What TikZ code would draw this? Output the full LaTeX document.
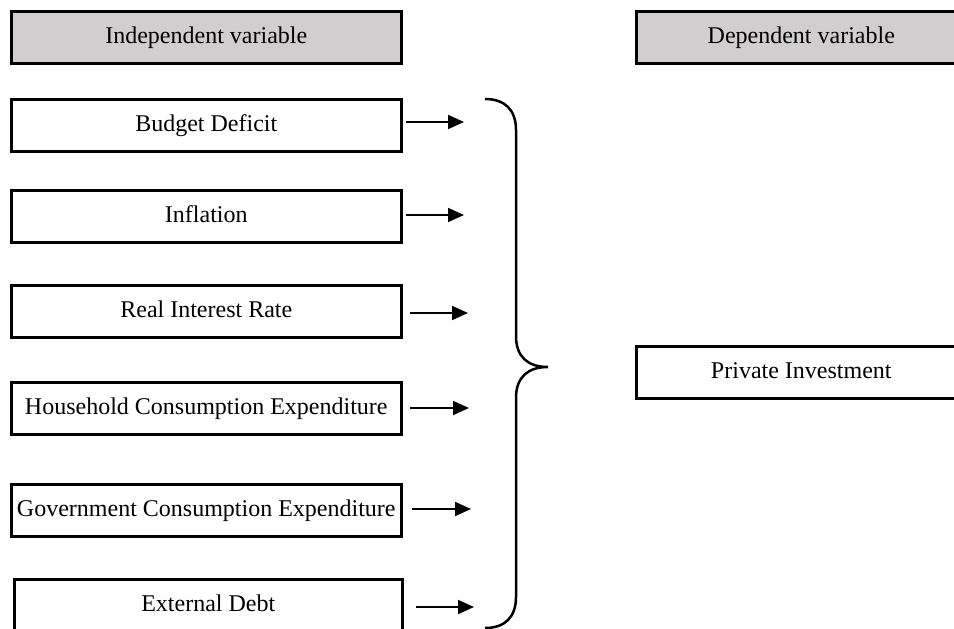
\documentclass[tikz,border=0pt]{standalone}
\usepackage{fontspec}
\setmainfont{Liberation Serif}
\usetikzlibrary{arrows.meta}
\definecolor{hdrgray}{RGB}{208,206,206}
\tikzset{
  box/.style={draw=black, line width=2.6pt, rectangle, inner sep=0pt,
    minimum height=52pt, text height=16pt, text depth=4pt,
    font=\fontsize{24}{28}\selectfont, anchor=north west},
  hdr/.style={box, fill=hdrgray},
  arr/.style={line width=1.8pt, -{Triangle[length=16pt,width=14pt]}},
  brace/.style={line width=2.5pt}
}
\begin{document}
\begin{tikzpicture}[x=1pt,y=-1pt]
\useasboundingbox (0,0) rectangle (954,629);
\clip (0,0) rectangle (954,629);
\fill[white] (0,0) rectangle (954,629);
% headers
\node[hdr, minimum width=390pt] (ind) at (10,10) {Independent variable};
\node[hdr, minimum width=330pt] (dep) at (635,10) {Dependent variable};
% independent boxes
\node[box, minimum width=390pt] (bd) at (10,98) {Budget Deficit};
\node[box, minimum width=390pt] (inf) at (10,189) {Inflation};
\node[box, minimum width=390pt] (rir) at (10,284) {Real Interest Rate};
\node[box, minimum width=390pt] (hce) at (10,381) {Household Consumption Expenditure};
\node[box, minimum width=390pt] (gce) at (10,483) {Government Consumption Expenditure};
\node[box, minimum width=388pt] (ed) at (13,578) {External Debt};
% dependent box
\node[box, minimum width=330pt] (pi) at (635,345) {Private Investment};
% arrows
\coordinate (a1) at (406,122); \coordinate (b1) at (464,122);
\coordinate (a2) at (406,215); \coordinate (b2) at (464,215);
\coordinate (a3) at (410,313); \coordinate (b3) at (468,313);
\coordinate (a4) at (410,408); \coordinate (b4) at (469,408);
\coordinate (a5) at (412,509); \coordinate (b5) at (471,509);
\coordinate (a6) at (416,607); \coordinate (b6) at (474,607);
\foreach \i in {1,...,6} {\draw[arr] (a\i) -- (b\i);}
% brace
\draw[brace] (485,99) .. controls (505,99) and (516,110) .. (516,130)
  -- (516,336) .. controls (516,357) and (528,367) .. (548,367)
  .. controls (528,367) and (516,377) .. (516,398)
  -- (516,597) .. controls (516,617) and (505,628) .. (485,628);
\end{tikzpicture}
\end{document}
